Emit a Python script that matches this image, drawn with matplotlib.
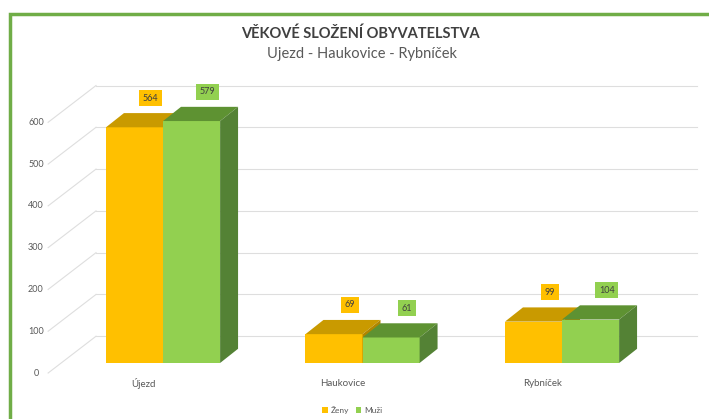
import matplotlib.pyplot as plt
from matplotlib.patches import Polygon, Rectangle

categories = ["Újezd", "Haukovice", "Rybníček"]
zeny = [564, 69, 99]
muzi = [579, 61, 104]
yticks = [0, 100, 200, 300, 400, 500, 600]
series_names = ["Ženy", "Muži"]

plt.rcParams["font.family"] = ["Lato", "DejaVu Sans"]

front_colors = ["#FFC000", "#92D050"]
top_colors = ["#C99A00", "#5E9232"]
side_colors = ["#B08600", "#548235"]

bar_w = 0.286
ddx, ddy = 0.09, 34          # bar depth (x in category units, y in value units)
wall_dx, wall_front, wall_back = 0.24, -24, 64
text_gray = "#595959"
grid_gray = "#DEDEDE"

fig = plt.figure(figsize=(7.09, 4.19), dpi=100)
ax = fig.add_axes([0.033, 0.0938, 0.9567, 0.738])
ax.set_xlim(-0.7, 2.7)
ax.set_ylim(-40, 700)
ax.axis("off")

# back wall gridlines + diagonal side lines
x_front = -0.576
x_back = x_front + wall_dx
x_right = 2.677
for v in yticks:
    ax.plot([x_back, x_right], [v + wall_back, v + wall_back], color=grid_gray, lw=0.8, zorder=1)
    ax.plot([x_front, x_back], [v + wall_front, v + wall_back], color=grid_gray, lw=0.8, zorder=1)
    ax.text(-0.637, v + wall_front, str(v), ha="center", va="center", fontsize=6.5, color=text_gray)

handles = []
for i, cat in enumerate(categories):
    for j, vals in enumerate([zeny, muzi]):
        h = vals[i]
        x0 = i - bar_w + j * bar_w
        z = 3 + 3 * j
        b = ax.bar(x0, h, width=bar_w, align="edge", color=front_colors[j], zorder=z)
        if i == 0:
            handles.append(b)
        top = [(x0, h), (x0 + bar_w, h), (x0 + bar_w + ddx, h + ddy), (x0 + ddx, h + ddy)]
        side = [(x0 + bar_w, 0), (x0 + bar_w + ddx, ddy), (x0 + bar_w + ddx, h + ddy), (x0 + bar_w, h)]
        ax.add_patch(Polygon(top, closed=True, facecolor=top_colors[j], edgecolor="none", zorder=z + 1))
        ax.add_patch(Polygon(side, closed=True, facecolor=side_colors[j], edgecolor="none", zorder=z + 1))
        ax.text(x0 + bar_w / 2 + ddx * 0.9, h + ddy + 36, str(h), ha="center", va="center",
                fontsize=6.5, color="#404040", zorder=10,
                bbox=dict(facecolor=front_colors[j], edgecolor="none", boxstyle="square,pad=0.4"))
    ax.text(i - 0.1, -50, cat, ha="center", va="center", fontsize=7, color=text_gray)

fig.text(0.508, 1 - 34 / 419, "VĚKOVÉ SLOŽENÍ OBYVATELSTVA", ha="center", va="center",
         fontsize=10.5, fontweight="bold", color="#404040")
fig.text(0.511, 1 - 54 / 419, "Ujezd - Haukovice - Rybníček", ha="center", va="center",
         fontsize=10.5, color="#595959")

fig.legend(handles, series_names, loc="center", bbox_to_anchor=(352 / 709, 1 - 410 / 419), ncol=2,
           frameon=False, fontsize=6, handlelength=0.7, handleheight=0.7, handletextpad=0.3,
           columnspacing=0.8, labelcolor=text_gray)

fig.add_artist(Rectangle((9.5 / 709, -0.2), 1.2, 1.2 - 13.5 / 419, transform=fig.transFigure,
                         fill=False, edgecolor="#70AD47", lw=2.5))

fig.savefig("out.png")
